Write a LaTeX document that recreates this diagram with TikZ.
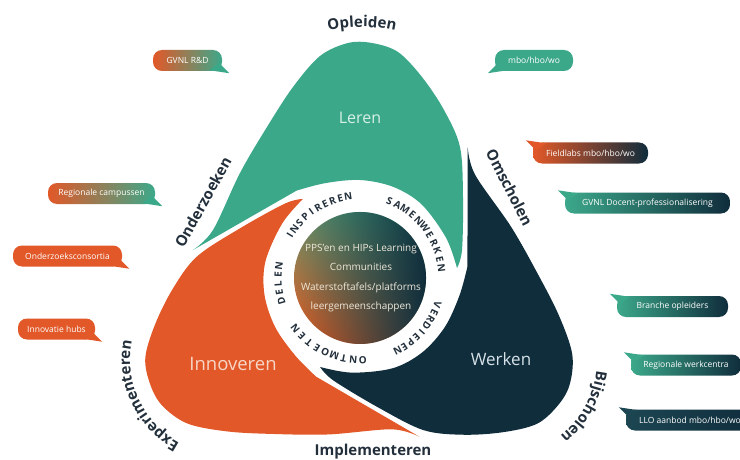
\documentclass[tikz,border=0pt]{standalone}
\usepackage{fontspec}
\setmainfont{Open Sans}
\usetikzlibrary{decorations.text,calc,fadings}
\definecolor{cGreen}{RGB}{60,168,138}
\definecolor{cOrange}{RGB}{226,88,40}
\definecolor{cNavy}{RGB}{16,45,60}
\definecolor{cInk}{RGB}{35,48,60}
\definecolor{cMint}{RGB}{215,240,230}
\definecolor{cPeach}{RGB}{247,214,198}
\definecolor{cIce}{RGB}{214,226,232}
\definecolor{cCream}{RGB}{238,232,218}
\definecolor{cTop}{RGB}{70,166,130}
\definecolor{cOlive}{RGB}{176,158,80}
\definecolor{cBot}{RGB}{214,96,40}
\definecolor{cDeep}{RGB}{28,70,82}
\tikzfading[name=navyfade, left color=transparent!100, middle color=transparent!75, right color=transparent!0]
\newcommand\lblfont{\fontsize{15}{18}\selectfont\bfseries}
\newcommand\ringfont{\fontsize{10}{11}\selectfont\bfseries}
\newcommand\bubfont{\fontsize{8.5}{10}\selectfont}
\newcommand{\lobeshape}[2]{%
  \begin{scope}[shift={(360,181)},rotate=#2]
    \fill[#1] plot[smooth,tension=0.55] coordinates {(-167,28) (-147,48) (-120,105) (-93,151) (-67,191) (-40,222) (-12,235) (12,235) (38,226) (62,201) (84,168) (100,131) (103,81) (102,28) (97,10)}
      -- plot[smooth,tension=0.55] coordinates {(97,10) (25:95) (50:96) (70:97) (90:98) (110:101) (126:108)} -- cycle;
  \end{scope}}
\newcommand{\ringword}[5]{%
  \foreach \ch [count=\i] in {#5} {%
    \pgfmathsetmacro\ang{#2+((#4+1)/2-\i)*#3}%
    \pgfmathsetmacro\rot{\ang-90}%
    \node[ringlet, rotate=\rot] (#1\i) at ($(360,181)+(\ang:82)$) {\ch};
  }}
\newcommand\tailBR[2]{\fill[#2] ($(#1.south east)+(-13,1)$) -- ($(#1.south east)+(7,-2)$) -- ($(#1.south east)+(-3,8)$) -- cycle;}
\newcommand\tailTL[2]{\fill[#2] ($(#1.north west)+(13,-1)$) -- ($(#1.north west)+(-7,2)$) -- ($(#1.north west)+(3,-8)$) -- cycle;}
\newcommand\tailBL[2]{\fill[#2] ($(#1.south west)+(13,1)$) -- ($(#1.south west)+(-7,-2)$) -- ($(#1.south west)+(3,8)$) -- cycle;}
\begin{document}
\begin{tikzpicture}[x=1pt,y=1pt,
  bub/.style={rounded corners=9pt, minimum height=21pt, inner sep=0pt, text=white, font=\bubfont},
  lbl/.style={font=\lblfont, text=cInk, inner sep=0pt},
  ringlet/.style={font=\ringfont, text=cInk, inner sep=0pt},
  lobetxt/.style={inner sep=0pt}]
\useasboundingbox (0,0) rectangle (740,459);
\clip (0,0) rectangle (740,459);
\fill[white] (0,0) rectangle (740,459);

% lobes
\lobeshape{cGreen}{0}
\lobeshape{cOrange}{120}
\lobeshape{cNavy}{-120}

% centre disc
\shade[top color=cTop, middle color=cOlive, bottom color=cBot, shading angle=-25] (360,181) circle[radius=66];
\fill[cNavy, path fading=navyfade] (360,181) circle[radius=66];
\node[align=center, text=cCream, font=\fontsize{10}{19.5}\selectfont, inner sep=0pt] (ctext) at (361,181)
  {PPS’en en HIPs Learning\\Communities\\Waterstoftafels/platforms\\leergemeenschappen};

% ring words
\ringword{ins}{123.5}{5.6}{10}{I,N,S,P,I,R,E,R,E,N}
\ringword{sam}{38}{6.2}{11}{S,A,M,E,N,W,E,R,K,E,N}
\ringword{ver}{-41}{5.4}{9}{V,E,R,D,I,E,P,E,N}
\ringword{ont}{-115}{6.75}{9}{O,N,T,M,O,E,T,E,N}
\ringword{del}{184}{6.2}{5}{D,E,L,E,N}

% lobe labels
\node[lobetxt, text=cMint, font=\fontsize{16}{19}\selectfont] (leren) at (360,341) {Leren};
\node[lobetxt, text=cPeach, font=\fontsize{18.5}{22}\selectfont] (innov) at (233,95) {Innoveren};
\node[lobetxt, text=cIce, font=\fontsize{17}{20}\selectfont] (werken) at (501,100) {Werken};

% outer labels
\path[decorate, decoration={text along path, text align=center, text color=cInk, text={|\lblfont|Opleiden}}]
  (362,282) ++(110:150) arc[start angle=110, end angle=70, radius=150];
\path[decorate, decoration={text along path, text align=center, text color=cInk, text={|\lblfont|Bijscholen}}]
  (500,99) ++(5:97) arc[start angle=5, end angle=-63, radius=97];
\path[decorate, decoration={text along path, text align=center, text color=cInk, text={|\lblfont|Experimenteren}}]
  (224,99) ++(250:94) arc[start angle=250, end angle=160, radius=94];
\node[lbl, rotate=-63] (omsch) at (509.5,271.5) {Omscholen};
\node[lbl, rotate=61] (onderz) at (203,257) {Onderzoeken};
\node[lbl] (impl) at (373,7.5) {Implementeren};

% bubbles left
\node[bub, minimum width=69pt, left color=cOrange, right color=cGreen] (b1) at (187.5,398.5) {GVNL R\&D};
\tailBR{b1}{cGreen}
\node[bub, minimum width=107pt, left color=cOrange, right color=cGreen] (b2) at (101.5,265.5) {Regionale campussen};
\tailBR{b2}{cGreen}
\node[bub, minimum width=109pt, fill=cOrange] (b3) at (67.5,203) {Onderzoeksconsortia};
\tailBR{b3}{cOrange}
\node[bub, minimum width=77pt, fill=cOrange] (b4) at (56.5,130) {Innovatie hubs};
\tailBR{b4}{cOrange}

% bubbles right
\node[bub, minimum width=78pt, fill=cGreen] (b5) at (534,398.5) {mbo/hbo/wo};
\tailBL{b5}{cGreen}
\node[bub, minimum width=115pt, left color=cOrange, right color=cNavy] (b6) at (590.5,306) {Fieldlabs mbo/hbo/wo};
\tailTL{b6}{cOrange}
\node[bub, minimum width=165pt, left color=cGreen, right color=cNavy] (b7) at (647.5,256) {GVNL Docent-professionalisering};
\tailTL{b7}{cGreen}
\node[bub, minimum width=111pt, left color=cGreen, right color=cNavy] (b8) at (672.5,152.5) {Branche opleiders};
\tailTL{b8}{cGreen}
\node[bub, minimum width=110pt, left color=cGreen, right color=cNavy] (b9) at (686,94) {Regionale werkcentra};
\tailTL{b9}{cGreen}
\node[bub, minimum width=128pt, left color=cDeep, right color=cNavy] (b10) at (690,39) {LLO aanbod mbo/hbo/wo};
\tailTL{b10}{cDeep}
\end{tikzpicture}
\end{document}
